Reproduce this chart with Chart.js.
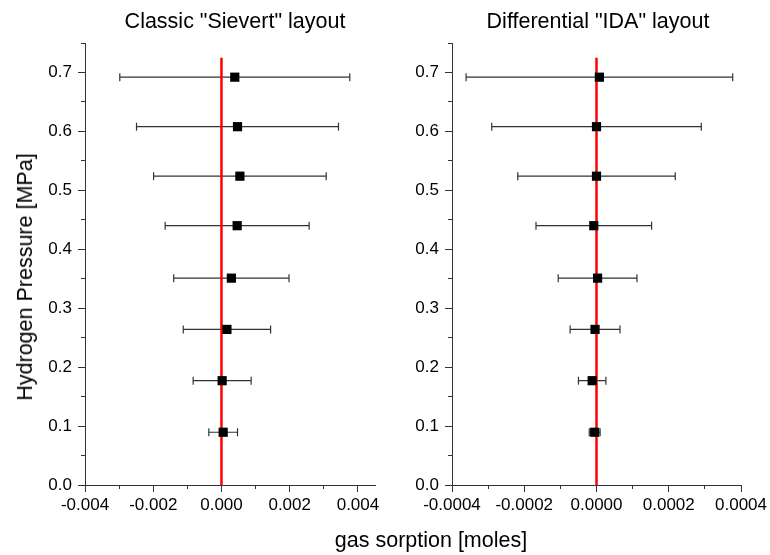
<!DOCTYPE html>
<html>
<head>
<meta charset="utf-8">
<script src="https://cdn.jsdelivr.net/npm/chart.js@4.4.1/dist/chart.umd.min.js"></script>
<style>
    body { margin: 0; background: #fff; }
    #wrap { position: relative; width: 770px; height: 555px; font-family: 'Liberation Sans', Arial, sans-serif; color: #000; }
    canvas { position: absolute; top: 0; }
    .label { position: absolute; font-size: 21.5px; line-height: 24px; white-space: nowrap; transform: translate(-50%, -50%); }
    .label.vertical { transform: translate(-50%, -50%) rotate(-90deg); }
</style>
</head>
<body>
<div id="wrap">
    <canvas id="sievertChart" width="385" height="555" style="left:0"></canvas>
    <canvas id="idaChart" width="385" height="555" style="left:385px"></canvas>
    <div class="label" style="left:235px; top:21px">Classic "Sievert" layout</div>
    <div class="label" style="left:598px; top:21px">Differential "IDA" layout</div>
    <div class="label vertical" style="left:25px; top:277px">Hydrogen Pressure [MPa]</div>
    <div class="label" style="left:431px; top:540px">gas sorption [moles]</div>
</div>
<script>
// Pressure steps (MPa), shared by both layouts
const pressure = [0.692, 0.608, 0.524, 0.44, 0.351, 0.264, 0.177, 0.0895];

// Classic Sievert: mean sorption and +/- uncertainty (moles)
const sievertMean = [0.00039, 0.00047, 0.00054, 0.00046, 0.00029, 0.00016, 0.00002, 0.00005];
const sievertErr = [0.00337, 0.00296, 0.00253, 0.00211, 0.00169, 0.00128, 0.00085, 0.00042];

// Differential IDA: mean sorption and +/- uncertainty (moles)
const idaMean = [0.000008, 0.0, 0.0, -0.0000075, 0.000003, -0.000004, -0.000012, -0.000005];
const idaErr = [0.000369, 0.00029, 0.000218, 0.00016, 0.000109, 0.000069, 0.000038, 0.000015];

// Axis ranges and tick steps
const yRange = [0, 0.75];
const yMajor = 0.1;
const yMinor = 0.05;
const sievertRange = [-0.004, 0.0045];
const sievertTicks = [0.002, 0.001];
const idaRange = [-0.0004, 0.0004];
const idaTicks = [0.0002, 0.0001];
const zeroLineTop = 0.725;

Chart.defaults.font.family = "'Liberation Sans', Arial, sans-serif";
Chart.defaults.color = '#000';

const axisColor = '#333';

const fmt = (v, digits) => (Math.abs(v) < 1e-12 ? 0 : v).toFixed(digits);

function buildPanel(canvasId, means, errs, xRange, xSteps, digits, opts) {
    const markers = pressure.map((p, i) => ({ x: means[i], y: p }));

    // each bar is a two-point segment, null point breaks the line between rows
    const bars = [];
    pressure.forEach((p, i) => {
        bars.push({ x: means[i] - errs[i], y: p });
        bars.push({ x: means[i] + errs[i], y: p });
        bars.push({ x: null, y: null });
    });

    const ctx = document.getElementById(canvasId).getContext('2d');
    return new Chart(ctx, {
        type: 'scatter',
        data: {
            datasets: [
                {
                    data: markers,
                    order: 0,
                    pointStyle: 'rect',
                    pointRadius: 6.5,
                    pointBackgroundColor: '#000',
                    pointBorderWidth: 0
                },
                {
                    data: [{ x: 0, y: 0 }, { x: 0, y: zeroLineTop }],
                    order: 1,
                    showLine: true,
                    borderColor: '#ff0000',
                    borderWidth: 2.5,
                    pointRadius: 0
                },
                {
                    data: bars,
                    order: 2,
                    showLine: true,
                    spanGaps: false,
                    borderColor: axisColor,
                    borderWidth: 1.2,
                    pointStyle: 'line',
                    rotation: 90,
                    pointRadius: 4,
                    pointBorderColor: axisColor,
                    pointBorderWidth: 1.2
                }
            ]
        },
        options: {
            responsive: false,
            animation: false,
            events: [],
            layout: { padding: { top: 43, right: opts.padRight, left: 0, bottom: 0 } },
            plugins: {
                legend: { display: false },
                tooltip: { enabled: false }
            },
            scales: {
                x: {
                    type: 'linear',
                    position: 'bottom',
                    min: xRange[0],
                    max: xRange[1],
                    ticks: {
                        stepSize: xSteps[0],
                        includeBounds: false,
                        maxRotation: 0,
                        padding: 3,
                        font: { size: 17 },
                        callback: (v) => fmt(v, digits)
                    },
                    grid: { drawOnChartArea: false, tickLength: 7, tickColor: axisColor },
                    border: { color: axisColor, width: 1 },
                    afterFit: (s) => { s.height = 70; }
                },
                xMinor: {
                    type: 'linear',
                    axis: 'x',
                    position: 'bottom',
                    weight: -1,
                    min: xRange[0],
                    max: xRange[1],
                    ticks: { stepSize: xSteps[1], includeBounds: false, display: false },
                    grid: { drawOnChartArea: false, tickLength: 4, tickColor: axisColor },
                    border: { display: false },
                    afterFit: (s) => { s.height = 0; }
                },
                y: {
                    type: 'linear',
                    position: 'left',
                    min: yRange[0],
                    max: yRange[1],
                    ticks: {
                        stepSize: yMajor,
                        includeBounds: false,
                        padding: 6,
                        font: { size: 17 },
                        callback: (v) => fmt(v, 1)
                    },
                    grid: { drawOnChartArea: false, tickLength: 7, tickColor: axisColor },
                    border: { color: axisColor, width: 1 },
                    afterFit: (s) => { s.width = opts.yWidth; }
                },
                yMinor: {
                    type: 'linear',
                    axis: 'y',
                    position: 'left',
                    weight: -1,
                    min: yRange[0],
                    max: yRange[1],
                    ticks: { stepSize: yMinor, display: false },
                    grid: { drawOnChartArea: false, tickLength: 4, tickColor: axisColor },
                    border: { display: false },
                    afterFit: (s) => { s.width = 0; }
                }
            }
        }
    });
}

buildPanel('sievertChart', sievertMean, sievertErr, sievertRange, sievertTicks, 3,
    { yWidth: 85, padRight: 10 });
buildPanel('idaChart', idaMean, idaErr, idaRange, idaTicks, 4,
    { yWidth: 67, padRight: 26 });
</script>
</body>
</html>
